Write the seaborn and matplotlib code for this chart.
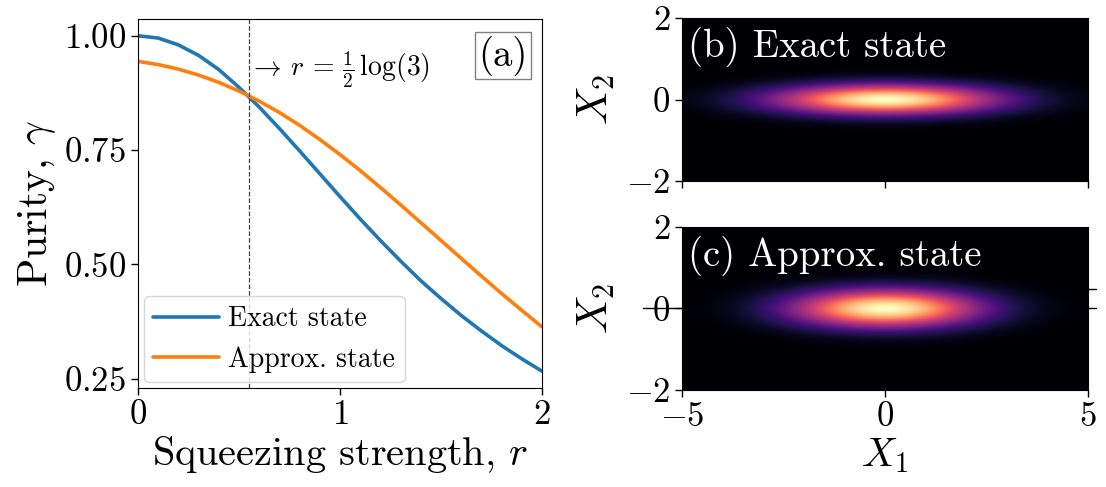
import numpy as np
import pandas as pd
import matplotlib
matplotlib.use("Agg")
import matplotlib.pyplot as plt
import seaborn as sns
from matplotlib.lines import Line2D

# ---- panel (a): purity vs squeezing strength ----
r_values = [0.0, 0.1, 0.2, 0.3, 0.4, 0.5, 0.6, 0.7, 0.8, 0.9, 1.0,
            1.1, 1.2, 1.3, 1.4, 1.5, 1.6, 1.7, 1.8, 1.9, 2.0]
purity_exact = [1.000, 0.995, 0.980, 0.957, 0.926, 0.887, 0.844, 0.797, 0.748, 0.698, 0.648,
                0.599, 0.552, 0.507, 0.464, 0.425, 0.388, 0.354, 0.322, 0.293, 0.266]
purity_approx = [0.944, 0.937, 0.927, 0.914, 0.898, 0.879, 0.857, 0.832, 0.804, 0.773, 0.740,
                 0.705, 0.668, 0.630, 0.591, 0.552, 0.513, 0.474, 0.436, 0.399, 0.363]
series_names = ["Exact state", "Approx. state"]
line_colors = ["#1f77b4", "#ff7f0e"]
r_marker = 0.5493  # 1/2 log(3)

# ---- panels (b), (c): Gaussian Wigner functions, widths ----
panel_texts = ["(b) Exact state", "(c) Approx. state"]
sigma_x1 = [1.92, 1.62]
sigma_x2 = [0.26, 0.33]
x1_limits = [-5, 5]
x2_limits = [-2, 2]

sns.set_style("ticks")
plt.rcParams.update({
    "font.family": "serif",
    "font.serif": ["cmr10"],
    "mathtext.fontset": "cm",
    "axes.formatter.use_mathtext": True,
    "axes.edgecolor": "black",
    "xtick.color": "black",
    "ytick.color": "black",
    "text.color": "black",
    "axes.labelcolor": "black",
})

fig = plt.figure(figsize=(11.06, 4.87), dpi=100)

# stray reference lines seen on the original figure
fig.add_artist(Line2D([0.581, 0.991], [0.3676, 0.3676], color="black", lw=1.0,
                      transform=fig.transFigure, zorder=-1))
fig.add_artist(Line2D([0.983, 0.991], [0.4066, 0.4066], color="black", lw=1.0,
                      transform=fig.transFigure, zorder=-1))

ax = fig.add_axes([0.1248, 0.2033, 0.3653, 0.7577])
df = pd.DataFrame({"r": r_values * 2,
                   "purity": purity_exact + purity_approx,
                   "state": [series_names[0]] * len(r_values) + [series_names[1]] * len(r_values)})
for name, col in zip(series_names, line_colors):
    sub = df[df["state"] == name]
    sns.lineplot(data=sub, x="r", y="purity", color=col, lw=2.6, label=name, ax=ax)

ax.axvline(r_marker, color="0.25", ls="--", lw=0.9)
ax.text(r_marker, 0.925, r"$\rightarrow\, r\, =\, \frac{1}{2}\,\log(3)$", fontsize=20,
        ha="left", va="center")
ax.text(0.965, 0.955, "(a)", transform=ax.transAxes, fontsize=28, ha="right", va="top",
        bbox=dict(boxstyle="square,pad=0.08", fc="white", ec="0.5", lw=1))
ax.set_xlim(0, 2)
ax.set_xticks([0, 1, 2])
ax.set_yticks([0.25, 0.5, 0.75, 1.0])
ax.yaxis.set_major_formatter(matplotlib.ticker.FormatStrFormatter(r"$%.2f$"))
ax.xaxis.set_major_formatter(matplotlib.ticker.FormatStrFormatter(r"$%d$"))
ax.tick_params(labelsize=25, length=5, width=1)
ax.set_xlabel("Squeezing strength, $r$", fontsize=29, labelpad=2)
ax.set_ylabel(r"Purity, $\gamma$", fontsize=30, labelpad=4)
ax.legend(loc="lower left", fontsize=20, handlelength=2.35, frameon=True,
          borderaxespad=0.2, fancybox=True, framealpha=0.8, edgecolor="0.8",
          borderpad=0.35, labelspacing=0.5, handletextpad=0.35)

# right-hand Wigner panels
grid_x1 = np.linspace(x1_limits[0], x1_limits[1], 400)
grid_x2 = np.linspace(x2_limits[0], x2_limits[1], 200)
gx1, gx2 = np.meshgrid(grid_x1, grid_x2)
positions = [[0.6166, 0.6283, 0.3671, 0.3347], [0.6166, 0.1992, 0.3671, 0.3347]]
for i, pos in enumerate(positions):
    axw = fig.add_axes(pos)
    w = np.exp(-gx1 ** 2 / (2 * sigma_x1[i] ** 2) - gx2 ** 2 / (2 * sigma_x2[i] ** 2))
    axw.imshow(w, origin="lower", extent=x1_limits + x2_limits, aspect="auto",
               cmap="magma", interpolation="bilinear")
    axw.set_xticks([-5, 0, 5])
    axw.set_yticks([-2, 0, 2])
    axw.xaxis.set_major_formatter(matplotlib.ticker.FormatStrFormatter(r"$%d$"))
    axw.yaxis.set_major_formatter(matplotlib.ticker.FormatStrFormatter(r"$%d$"))
    axw.tick_params(labelsize=25, length=5, width=1)
    axw.set_ylabel(r"$X_2$", fontsize=31, labelpad=6)
    axw.text(-4.85, 1.3, panel_texts[i], color="white", fontsize=28, ha="left", va="center")
    if i == 0:
        axw.tick_params(labelbottom=False)
    else:
        axw.set_xlabel(r"$X_1$", fontsize=29, labelpad=2)

fig.savefig("out.png", dpi=100)
